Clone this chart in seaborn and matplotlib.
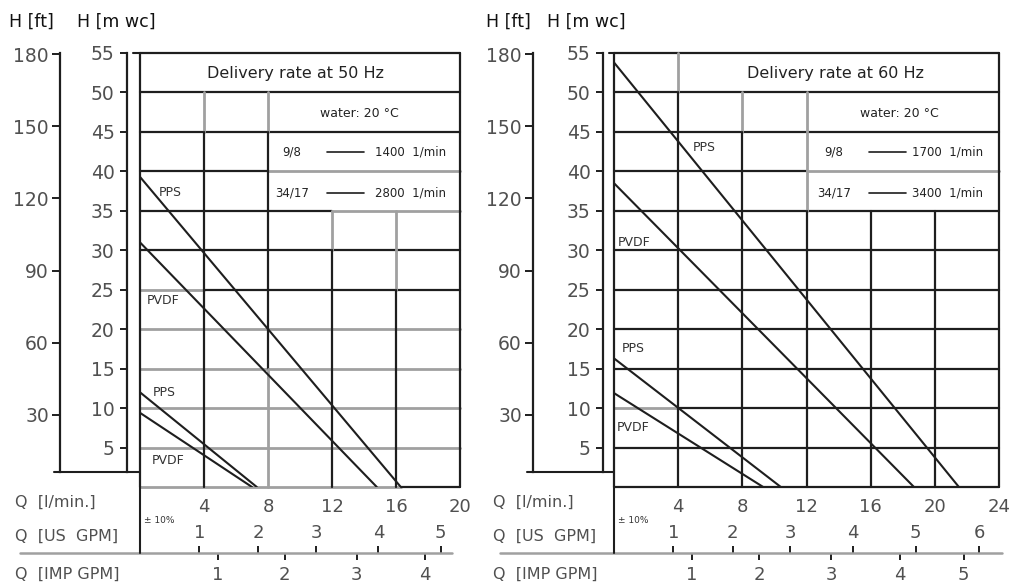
import numpy as np
import pandas as pd
import matplotlib
matplotlib.use("Agg")
import matplotlib.pyplot as plt
from matplotlib.lines import Line2D
import seaborn as sns

# canvas in pixels
W, H = 1010, 584

# curve end points: Q [l/min] and H [m wc]
q_50_pps_34 = [0.0, 16.3]
h_50_pps_34 = [39.3, 0.0]
q_50_pvdf_34 = [0.0, 14.8]
h_50_pvdf_34 = [31.0, 0.0]
q_50_pps_9 = [0.0, 7.3]
h_50_pps_9 = [12.0, 0.0]
q_50_pvdf_9 = [0.0, 7.0]
h_50_pvdf_9 = [9.4, 0.0]

q_60_pps_34 = [0.0, 21.5]
h_60_pps_34 = [53.8, 0.0]
q_60_pvdf_34 = [0.0, 18.7]
h_60_pvdf_34 = [38.5, 0.0]
q_60_pps_9 = [0.0, 10.4]
h_60_pps_9 = [16.3, 0.0]
q_60_pvdf_9 = [0.0, 9.3]
h_60_pvdf_9 = [11.9, 0.0]

curve_names = ["PPS 34/17", "PVDF 34/17", "PPS 9/8", "PVDF 9/8"]
curve_labels = ["PPS", "PVDF", "PPS", "PVDF"]

titles = ["Delivery rate at 50 Hz", "Delivery rate at 60 Hz"]
water_text = "water: 20 °C"
pump_small = "9/8"
pump_big = "34/17"
speed_small = ["1400  1/min", "1700  1/min"]
speed_big = ["2800  1/min", "3400  1/min"]

q_ticks_50 = [4, 8, 12, 16, 20]
q_ticks_60 = [4, 8, 12, 16, 20, 24]
h_ticks_m = [5, 10, 15, 20, 25, 30, 35, 40, 45, 50, 55]
h_ticks_ft = [30, 60, 90, 120, 150, 180]
# gallon scales, tick positions as read (in l/min)
us_gpm_labels = [1, 2, 3, 4, 5, 6]
us_gpm_q = [3.7, 7.4, 11.0, 14.9, 18.8, 22.75]
imp_gpm_labels = [1, 2, 3, 4, 5]
imp_gpm_q = [4.85, 9.05, 13.55, 17.8, 21.8]

FT = 0.3048

df = pd.DataFrame({
    "q": q_50_pps_34 + q_50_pvdf_34 + q_50_pps_9 + q_50_pvdf_9
    + q_60_pps_34 + q_60_pvdf_34 + q_60_pps_9 + q_60_pvdf_9,
    "h": h_50_pps_34 + h_50_pvdf_34 + h_50_pps_9 + h_50_pvdf_9
    + h_60_pps_34 + h_60_pvdf_34 + h_60_pps_9 + h_60_pvdf_9,
    "curve": [c for c in curve_names for _ in range(2)] * 2,
    "freq": [50] * 8 + [60] * 8,
})

sns.set_theme(style="white")
plt.rcParams["font.family"] = ["DejaVu Sans"]

BLACK = "#1e1e1e"
GREY = "#a0a0a0"
TXT = "#505050"


def rect(x0, y0, x1, y1):
    return [x0 / W, 1 - y1 / H, (x1 - x0) / W, (y1 - y0) / H]


def fig_line(fig, xs, ys, color=BLACK, lw=1.5):
    fig.add_artist(Line2D([x / W for x in xs], [1 - y / H for y in ys],
                          color=color, lw=lw, transform=fig.transFigure))


def draw_panel(fig, cfg):
    x0, x1, top, bot = cfg["x0"], cfg["x1"], 53, 487
    qmax = cfg["qmax"]
    ax = fig.add_axes(rect(x0, top, x1, bot))
    sub = df[df["freq"] == cfg["freq"]]
    sns.lineplot(data=sub, x="q", y="h", hue="curve", units="curve",
                 estimator=None, palette=[BLACK] * 4, lw=1.5,
                 legend=False, ax=ax)
    ax.set_xlim(0, qmax)
    ax.set_ylim(0, 55)
    for s in ax.spines.values():
        s.set_visible(False)
    ax.set_xlabel("")
    ax.set_ylabel("")
    ax.set_yticks([])
    ax.set_xticks(cfg["q_ticks"])
    ax.set_xticklabels([str(t) for t in cfg["q_ticks"]])
    ax.tick_params(axis="x", length=0, pad=8, labelsize=13, labelcolor=TXT)

    # grid segments of the drawing
    for y, a, b, c in cfg["hseg"]:
        ax.plot([a, b], [y, y], color=BLACK if c == "k" else GREY,
                lw=1.6 if c == "k" else 2.0, clip_on=False, zorder=1)
    for x, a, b, c in cfg["vseg"]:
        ax.plot([x, x], [a, b], color=BLACK if c == "k" else GREY,
                lw=1.6 if c == "k" else 2.0, clip_on=False, zorder=1)

    # header boxes
    ax.text(cfg["title_x"], 52.4, cfg["title"], ha="center", va="center",
            fontsize=11.5, color="#222")
    ax.text(cfg["water_x"], 47.3, water_text, ha="center", va="center",
            fontsize=9, color="#222")
    ax.text(cfg["pump_x"], 42.4, pump_small, ha="center", va="center",
            fontsize=8.5, color="#222")
    ax.text(cfg["pump_x"], 37.3, pump_big, ha="center", va="center",
            fontsize=8.5, color="#222")
    for yy in (42.4, 37.3):
        ax.plot(cfg["leg_line"], [yy, yy], color=BLACK, lw=1.2)
    ax.text(cfg["speed_x"], 42.4, cfg["speed_small"], ha="left",
            va="center", fontsize=8.5, color="#222")
    ax.text(cfg["speed_x"], 37.3, cfg["speed_big"], ha="left",
            va="center", fontsize=8.5, color="#222")

    for (lx, ly), lab in zip(cfg["label_pos"], curve_labels):
        ax.text(lx, ly, lab, ha="left", va="center", fontsize=9,
                color="#333")
    ax.text(0.25, -4.2, "± 10%", ha="left", va="center", fontsize=6.5,
            color="#333")

    # m wc axis
    axm = fig.add_axes(rect(cfg["m_x"], top, cfg["m_x"] + 0.5, bot))
    axm.set_ylim(0, 55)
    axm.set_facecolor("none")
    for k in ("top", "right", "bottom"):
        axm.spines[k].set_visible(False)
    axm.spines["left"].set_color(BLACK)
    axm.spines["left"].set_linewidth(1.6)
    axm.spines["left"].set_bounds(1.9, 55)
    axm.set_xticks([])
    axm.set_yticks(h_ticks_m)
    axm.tick_params(axis="y", left=True, length=5, width=1.4, color=BLACK,
                    pad=4, labelsize=13.5, labelcolor=TXT)

    # ft axis
    axf = fig.add_axes(rect(cfg["ft_x"], top, cfg["ft_x"] + 0.5, bot))
    axf.set_ylim(0, 55 / FT)
    axf.set_facecolor("none")
    for k in ("top", "right", "bottom"):
        axf.spines[k].set_visible(False)
    axf.spines["left"].set_color(BLACK)
    axf.spines["left"].set_linewidth(1.6)
    axf.spines["left"].set_bounds(1.9 / FT, 55 / FT)
    axf.set_xticks([])
    axf.set_yticks(h_ticks_ft)
    axf.tick_params(axis="y", left=True, length=6, width=1.4, color=BLACK,
                    pad=2, labelsize=13.5, labelcolor=TXT)

    # gallon scales
    axg = fig.add_axes(rect(x0, 553, x1, 553.01))
    axg.set_xlim(0, qmax)
    axg.set_yticks([])
    for s in axg.spines.values():
        s.set_visible(False)
    n_imp = cfg["n_imp"]
    axg.set_xticks(imp_gpm_q[:n_imp])
    axg.set_xticklabels([str(v) for v in imp_gpm_labels[:n_imp]])
    axg.tick_params(axis="x", bottom=True, length=5, width=1.4, color=BLACK,
                    pad=4, labelsize=13, labelcolor=TXT)
    axu = axg.twiny()
    axu.set_xlim(0, qmax)
    axu.set_yticks([])
    for s in axu.spines.values():
        s.set_visible(False)
    n_us = cfg["n_us"]
    axu.set_xticks(us_gpm_q[:n_us])
    axu.set_xticklabels([str(v) for v in us_gpm_labels[:n_us]])
    axu.tick_params(axis="x", top=True, length=5, width=1.4, color=BLACK,
                    pad=3, labelsize=13, labelcolor=TXT)

    # loose drawing lines outside the axes
    fig_line(fig, [cfg["line_l"], cfg["line_r"]], [553, 553], color=GREY, lw=1.8)
    fig_line(fig, [x0, x0], [487, 553])
    fig_line(fig, [cfg["ft_x"] - 6, x0], [472, 472])
    fig_line(fig, [cfg["m_x"] + 6, x0], [53, 53])

    # unit captions
    fig.text(cfg["hft_x"] / W, 1 - 22 / H, "H [ft]", ha="left", va="center",
             fontsize=12.5, color="#111")
    fig.text(cfg["hm_x"] / W, 1 - 22 / H, "H [m wc]", ha="left", va="center",
             fontsize=12.5, color="#111")
    fig.text(cfg["lab_x"] / W, 1 - 502 / H, "Q  [l/min.]", ha="left",
             va="center", fontsize=11.5, color=TXT)
    fig.text(cfg["lab_x"] / W, 1 - 536 / H, "Q  [US  GPM]", ha="left",
             va="center", fontsize=11.5, color=TXT)
    fig.text(cfg["lab_x"] / W, 1 - 574 / H, "Q  [IMP GPM]", ha="left",
             va="center", fontsize=11.5, color=TXT)


left_cfg = dict(
    freq=50, x0=140, x1=460, qmax=20, q_ticks=q_ticks_50,
    m_x=127, ft_x=60, hft_x=9, hm_x=77, lab_x=15, line_l=20, line_r=452,
    n_us=5, n_imp=4, title=titles[0], title_x=9.7, water_x=13.7,
    pump_x=9.5, leg_line=[11.7, 14.0], speed_x=14.7,
    speed_small=speed_small[0], speed_big=speed_big[0],
    label_pos=[(1.2, 37.3), (0.45, 23.6), (0.8, 12.0), (0.75, 3.4)],
    hseg=[(55, 0, 20, "k"), (50, 0, 20, "k"), (45, 0, 20, "k"),
          (40, 0, 8, "k"), (40, 8, 20, "g"), (35, 0, 12, "k"),
          (35, 12, 20, "g"), (30, 0, 20, "k"), (25, 0, 4, "g"),
          (25, 4, 20, "k"), (20, 0, 20, "g"), (15, 0, 20, "g"),
          (10, 0, 20, "g"), (5, 0, 20, "g"), (0, 0, 16.3, "g"),
          (0, 16.3, 20, "k")],
    vseg=[(0, 0, 55, "k"), (20, 0, 55, "k"), (4, 45, 50, "g"),
          (4, 0, 45, "k"), (8, 45, 50, "g"), (8, 15, 45, "k"),
          (8, 0, 15, "g"), (12, 30, 35, "g"), (12, 0, 30, "k"),
          (16, 25, 35, "g"), (16, 0, 25, "k")],
)

right_cfg = dict(
    freq=60, x0=614, x1=999, qmax=24, q_ticks=q_ticks_60,
    m_x=603, ft_x=533, hft_x=486, hm_x=547, lab_x=493, line_l=500,
    line_r=1002, n_us=6, n_imp=5, title=titles[1], title_x=13.8,
    water_x=17.8, pump_x=13.7, leg_line=[15.9, 18.2], speed_x=18.6,
    speed_small=speed_small[1], speed_big=speed_big[1],
    label_pos=[(4.9, 43.0), (0.25, 31.0), (0.5, 17.6), (0.2, 7.6)],
    hseg=[(55, 0, 24, "k"), (50, 0, 24, "k"), (45, 0, 24, "k"),
          (40, 0, 12, "k"), (40, 12, 24, "g"), (35, 0, 24, "k"),
          (30, 0, 24, "k"), (25, 0, 24, "k"), (20, 0, 24, "k"),
          (15, 0, 24, "k"), (10, 0, 4, "g"), (10, 4, 24, "k"),
          (5, 0, 24, "k"), (0, 0, 24, "k")],
    vseg=[(0, 0, 55, "k"), (24, 0, 55, "k"), (4, 50, 55, "g"),
          (4, 0, 50, "k"), (8, 45, 50, "g"), (8, 0, 45, "k"),
          (12, 35, 50, "g"), (12, 0, 35, "k"), (16, 0, 35, "k"),
          (20, 0, 35, "k")],
)

fig = plt.figure(figsize=(W / 100, H / 100), dpi=100)
fig.patch.set_facecolor("white")
draw_panel(fig, left_cfg)
draw_panel(fig, right_cfg)
fig.savefig("out.png", dpi=100, facecolor="white")
